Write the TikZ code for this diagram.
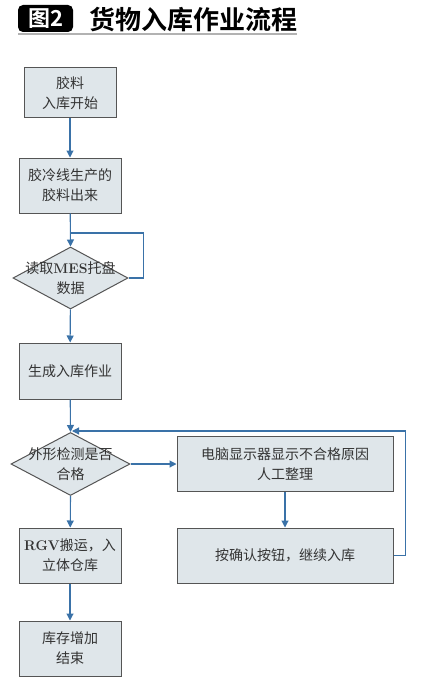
\documentclass[tikz,border=0pt]{standalone}
\usepackage{fontspec}
\newfontfamily\cjk{Noto Sans CJK SC}
\newfontfamily\cjkbold{Noto Sans CJK SC Bold}
\usepackage{tikz}
\usetikzlibrary{arrows.meta, shapes.geometric}

\definecolor{boxfill}{HTML}{DFE6EA}
\definecolor{boxline}{HTML}{555555}
\definecolor{flowblue}{HTML}{3A72A8}
\definecolor{txtgray}{HTML}{333333}

\begin{document}
\begin{tikzpicture}[x=1pt, y=1pt,
    box/.style={draw=boxline, line width=1pt, fill=boxfill, inner sep=0pt,
        align=center, text=txtgray, font=\cjk\fontsize{14}{20}\selectfont},
    decision/.style={diamond, draw=boxline, line width=1pt, fill=boxfill, inner sep=0pt},
    dtext/.style={align=center, text=txtgray, inner sep=0pt, font=\cjk\fontsize{14}{20}\selectfont},
    flow/.style={draw=flowblue, line width=1.1pt, -{Triangle[length=7pt,width=7pt]}},
    loopline/.style={draw=flowblue, line width=1.1pt}]
    \useasboundingbox (0,0) rectangle (420,-682);
    \fill[white] (0,0) rectangle (420,-682);

    % title
    \fill[black, rounded corners=5pt] (18,-5) rectangle (73,-32);
    \node[text=white, inner sep=0pt, font=\cjkbold\fontsize{22}{22}\selectfont] (tag) at (45.5,-18.5) {图2};
    \node[anchor=west, inner sep=0pt, text=black, font=\cjkbold\fontsize{26}{26}\selectfont] (title) at (89,-19.5) {货物入库作业流程};
    \draw[gray!60, line width=2pt] (18,-34) -- (297,-34);

    % main column
    \node[box, minimum width=92pt, minimum height=50pt] (b1) at (70,-93) {胶料\\入库开始};
    \node[box, minimum width=102pt, minimum height=55pt] (b2) at (70,-185.5) {胶冷线生产的\\胶料出来};
    \node[decision, minimum width=115pt, minimum height=62pt] (d1) at (70.5,-278) {};
    \node[dtext] (t1) at (d1) {读取{\normalfont\bfseries MES}托盘\\数据};
    \node[box, minimum width=102pt, minimum height=56pt] (b3) at (70,-371) {生成入库作业};
    \node[decision, minimum width=119pt, minimum height=63pt] (d2) at (70.5,-464) {};
    \node[dtext] (t2) at (d2) {外形检测是否\\合格};
    \node[box, minimum width=102pt, minimum height=55pt] (b6) at (70,-555.5) {{\normalfont\bfseries RGV}搬运，入\\立体仓库};
    \node[box, minimum width=102pt, minimum height=55pt] (b7) at (70,-648.5) {库存增加\\结束};

    % right column
    \node[box, minimum width=216pt, minimum height=55pt] (b4) at (285,-464) {电脑显示器显示不合格原因\\人工整理};
    \node[box, minimum width=216pt, minimum height=55pt] (b5) at (285,-555.5) {按确认按钮，继续入库};

    \coordinate (j1) at (70,-233);
    \coordinate (j2) at (72,-431);

    \draw[flow] (b1) -- (b2);
    \draw[flow] (b2) -- (d1.north);
    \draw[loopline] (d1.east) -- ++(15,0) |- (j1);
    \draw[flow] (d1) -- (b3);
    \draw[flow] (b3) -- (d2.north);
    \draw[flow] (d2.east) -- (b4.west);
    \draw[flow] (b4) -- (b5);
    \draw[flow] (b5.east) -- ++(12,0) |- (j2);
    \draw[flow] (d2.south) -- (b6);
    \draw[flow] (b6) -- (b7);
\end{tikzpicture}
\end{document}
